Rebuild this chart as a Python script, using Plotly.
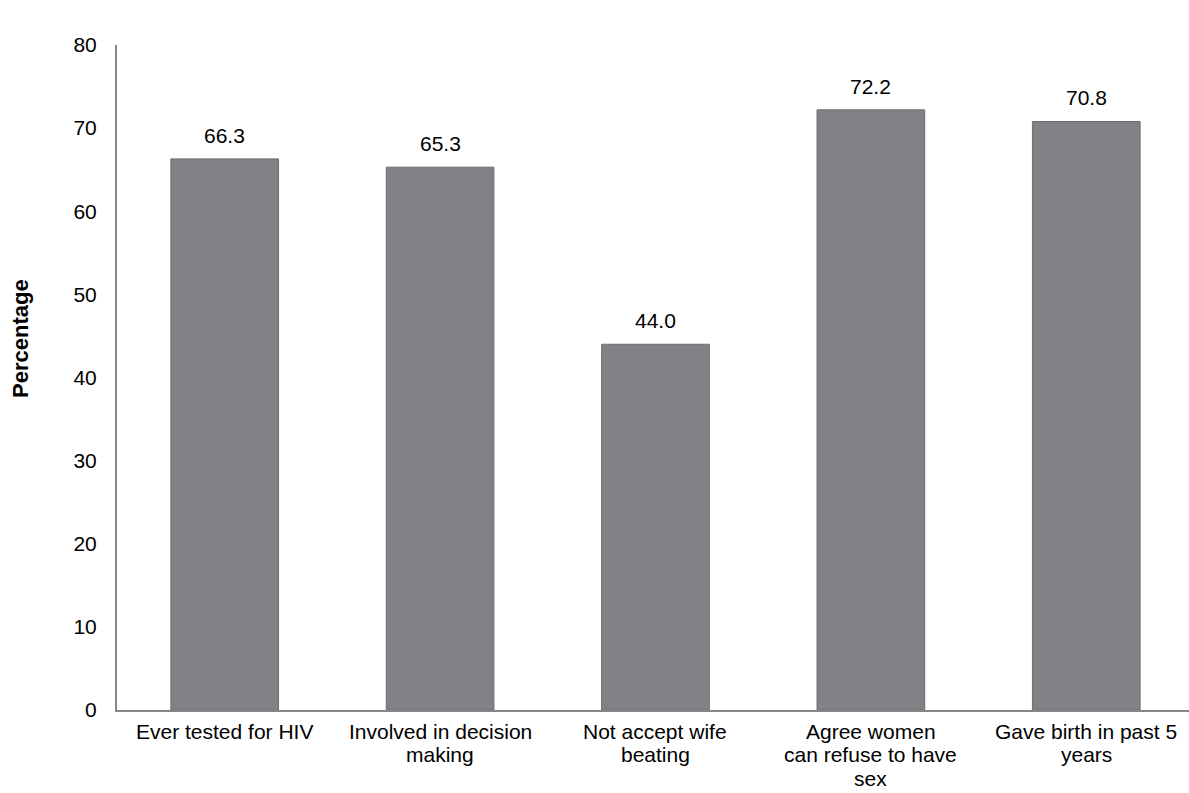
import plotly.graph_objects as go

categories = ["Ever tested for HIV", "Involved in decision<br>making", "Not accept wife<br>beating",
              "Agree women<br>can refuse to have<br>sex", "Gave birth in past 5<br>years"]
values = [66.3, 65.3, 44.0, 72.2, 70.8]
y_ticks = [0, 10, 20, 30, 40, 50, 60, 70, 80]

FONT = "Liberation Sans, Arial"
FS = 21

fig = go.Figure(go.Bar(
    x=list(range(len(categories))), y=values,
    marker=dict(color="#808285", line=dict(color="#6d6e71", width=1)),
    width=0.5,
    cliponaxis=False,
))

annotations = []
# value labels above bars
for i, v in enumerate(values):
    annotations.append(dict(x=i, y=v, xref="x", yref="y", text=f"{v:.1f}", showarrow=False,
                            xanchor="center", yanchor="bottom", yshift=10,
                            font=dict(family=FONT, size=FS, color="#000")))
# category labels (one annotation per line for tight line spacing)
for i, cat in enumerate(categories):
    for j, line in enumerate(cat.split("<br>")):
        annotations.append(dict(x=i, y=0, xref="x", yref="paper", text=line, showarrow=False,
                                xanchor="center", yanchor="middle", yshift=-(21 + 23.5 * j),
                                font=dict(family=FONT, size=FS, color="#000")))

pw = 1189 - 117
ph = 793 - 45 - 83
annotations.append(dict(text="<b>Percentage</b>", x=(20 - 117) / pw, y=(793 - 83 - 339) / ph,
                        xref="paper", yref="paper", showarrow=False, textangle=-90,
                        xanchor="center", yanchor="middle",
                        font=dict(family=FONT, size=22, color="#000")))

fig.update_layout(
    width=1189, height=793,
    margin=dict(l=117, r=0, t=45, b=83),
    paper_bgcolor="white", plot_bgcolor="white",
    font=dict(family=FONT, size=FS, color="#000"),
    showlegend=False,
    xaxis=dict(tickvals=list(range(len(categories))), showticklabels=False, automargin=False,
               range=[-0.5, 4.477], showline=True, linecolor="#868686", linewidth=2,
               showgrid=False, ticks="", zeroline=False),
    yaxis=dict(range=[0, 80], tickvals=y_ticks, showline=True, linecolor="#868686", linewidth=2,
               tickfont=dict(family=FONT, size=FS, color="#000"), automargin=False,
               showgrid=False, ticks="", zeroline=False, ticklabelstandoff=14),
    annotations=annotations,
)
fig.write_html("out.html")
